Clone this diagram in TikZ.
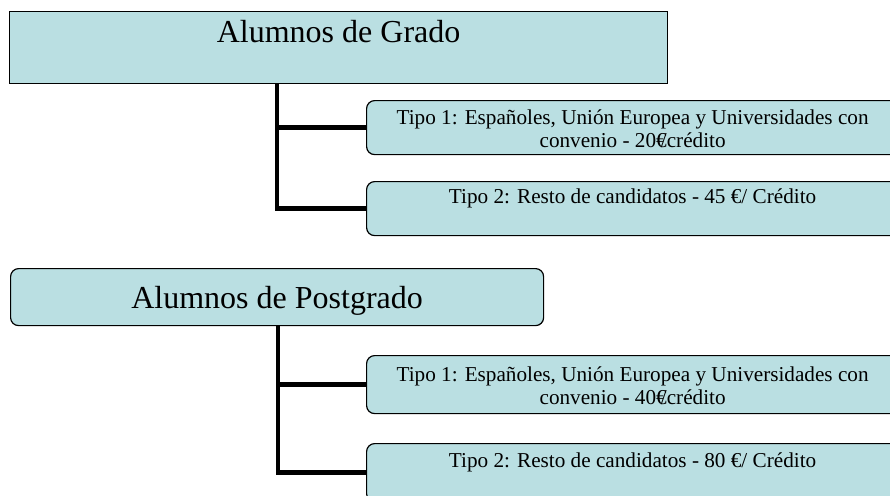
\documentclass[tikz,border=0pt]{standalone}
\usepackage{fontspec}
\setmainfont{Liberation Serif}
\usetikzlibrary{positioning}
\definecolor{cajaazul}{RGB}{186,223,226}

\begin{document}
\begin{tikzpicture}[
    x=1pt, y=-1pt,
    caja/.style={draw=black, fill=cajaazul, line width=1.2pt, inner sep=0pt, anchor=north west},
    cajared/.style={caja, rounded corners=8pt},
    titulo/.style={anchor=base, inner sep=0pt, font=\fontsize{32}{35}\selectfont},
    texto/.style={anchor=base, inner sep=0pt, align=center, font=\fontsize{21.2}{23}\selectfont},
    rama/.style={line width=4.5pt, line join=miter}
  ]
    \useasboundingbox (0,0) rectangle (890,495);

    % Alumnos de Grado
    \node[caja, minimum width=658pt, minimum height=72pt] (grado) at (9,11) {};
    \node[cajared, minimum width=532pt, minimum height=54pt] (g1) at (366,100) {};
    \node[cajared, minimum width=532pt, minimum height=54pt] (g2) at (366,181) {};

    \coordinate (gtronco) at (277,83);
    \draw[rama] (gtronco) |- (g1.west);
    \draw[rama] (gtronco) |- (g2.west);

    \node[titulo] at ([yshift=-32pt]grado.north) {Alumnos de Grado};
    \node[texto] at ([yshift=-47pt]g1.north) {Tipo 1: Españoles, Unión Europea y Universidades con\\convenio - 20€\kern-0.278em/crédito};
    \node[texto] at ([yshift=-22pt]g2.north) {Tipo 2: Resto de candidatos - 45 €/ Crédito};

    % Alumnos de Postgrado
    \node[cajared, minimum width=533pt, minimum height=57pt] (postgrado) at (10,268) {};
    \node[cajared, minimum width=532pt, minimum height=58pt] (p1) at (366,355) {};
    \node[cajared, minimum width=532pt, minimum height=58pt] (p2) at (366,443) {};

    \coordinate (ptronco) at (278,325);
    \draw[rama] (ptronco) |- (p1.west);
    \draw[rama] (ptronco) |- (p2.west);

    \node[titulo] at ([yshift=-40pt]postgrado.north) {Alumnos de Postgrado};
    \node[texto] at ([yshift=-49pt]p1.north) {Tipo 1: Españoles, Unión Europea y Universidades con\\convenio - 40€\kern-0.278em/crédito};
    \node[texto] at ([yshift=-24pt]p2.north) {Tipo 2: Resto de candidatos - 80 €/ Crédito};

\end{tikzpicture}
\end{document}
